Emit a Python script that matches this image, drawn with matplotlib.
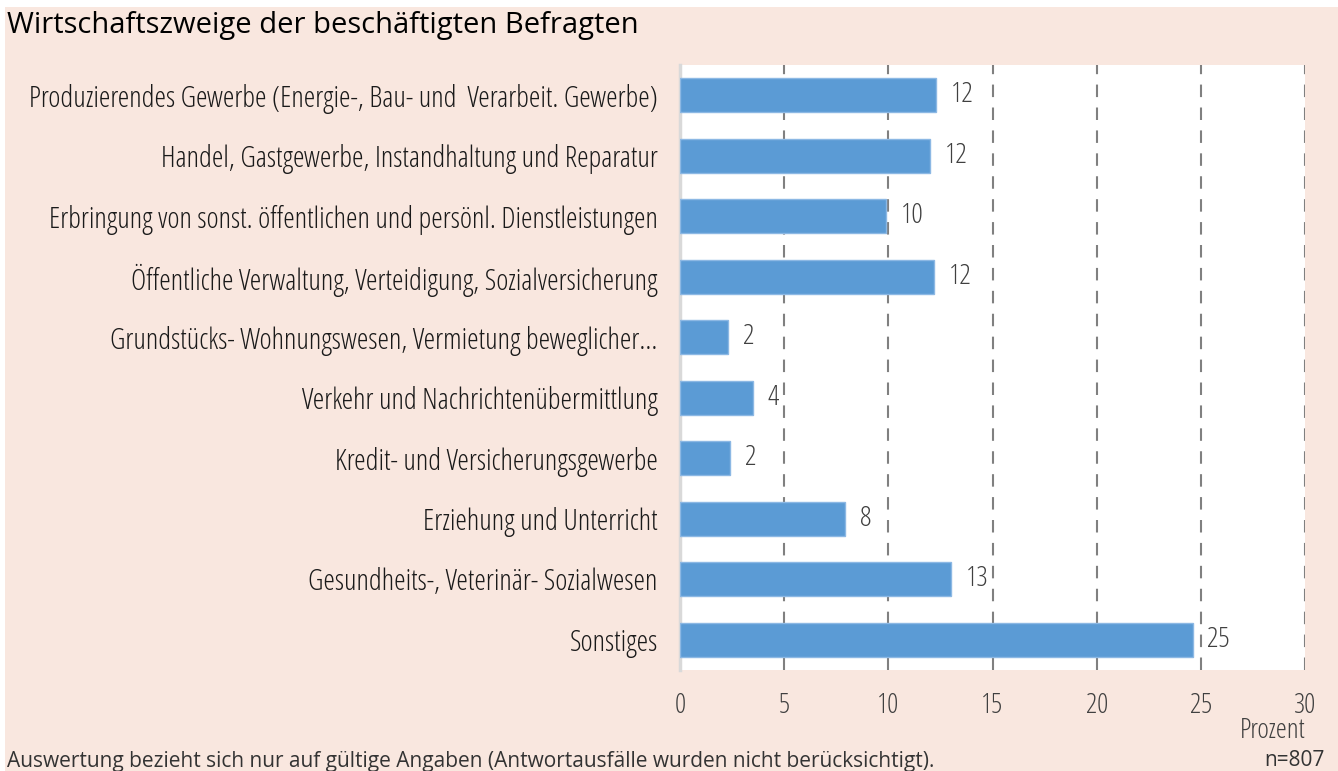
import matplotlib
matplotlib.use("Agg")
import matplotlib.pyplot as plt
from matplotlib import font_manager
from matplotlib.font_manager import FontProperties
from matplotlib.patches import Rectangle

categories = [
    "Produzierendes Gewerbe (Energie-, Bau- und  Verarbeit. Gewerbe)",
    "Handel, Gastgewerbe, Instandhaltung und Reparatur",
    "Erbringung von sonst. öffentlichen und persönl. Dienstleistungen",
    "Öffentliche Verwaltung, Verteidigung, Sozialversicherung",
    "Grundstücks- Wohnungswesen, Vermietung beweglicher…",
    "Verkehr und Nachrichtenübermittlung",
    "Kredit- und Versicherungsgewerbe",
    "Erziehung und Unterricht",
    "Gesundheits-, Veterinär- Sozialwesen",
    "Sonstiges",
]
values = [12.3, 12.0, 9.9, 12.2, 2.3, 3.5, 2.4, 7.9, 13.0, 24.6]
xticks = [0, 5, 10, 15, 20, 25, 30]


def find_font(name, stretch, weight):
    for f in font_manager.fontManager.ttflist:
        if f.name == name and f.stretch == stretch and f.weight == weight and f.style == "normal":
            return f.fname
    return None


cond_path = find_font("Open Sans", "condensed", 300)


def narrow(size):
    if cond_path:
        return FontProperties(fname=cond_path, size=size)
    return FontProperties(family="DejaVu Sans", stretch="condensed", size=size)


BG = "#F9E7DF"
BAR = "#5B9BD5"

fig = plt.figure(figsize=(13.38, 7.71), dpi=100)
fig.patch.set_facecolor("white")
fig.patches.append(Rectangle((5 / 1338, 0), 1, (771 - 7) / 771, transform=fig.transFigure,
                             facecolor=BG, edgecolor="none", zorder=-10))

ax = fig.add_axes([680 / 1338, 101 / 771, 625 / 1338, 605 / 771])
ax.set_zorder(1)
ax.set_facecolor("white")
y = list(range(len(categories)))
ax.barh(y, values, height=0.56, color=BAR, edgecolor="#8CB8E4", linewidth=1, zorder=3)
for yi, v in zip(y, values):
    ax.annotate(f"{v:.0f}", (v, yi), xytext=(15, 0), textcoords="offset pixels",
                va="center", ha="left", fontproperties=narrow(20.5), color="#404040", zorder=4)

ax.set_xlim(0, 30)
ax.set_ylim(len(categories) - 0.5, -0.5)
ax.set_xticks(xticks)
ax.set_xticklabels([str(t) for t in xticks], fontproperties=narrow(20), color="#404040")
ax.set_yticks(y)
ax.set_yticklabels(categories, fontproperties=narrow(21), color="#1a1a1a")
ax.tick_params(axis="both", length=0)
ax.tick_params(axis="y", pad=16)
ax.tick_params(axis="x", pad=16)
for t in xticks[1:]:
    ax.axvline(t, color="#808080", linestyle=(0, (6, 5)), linewidth=1.5, zorder=1)
for s in ["top", "right", "bottom"]:
    ax.spines[s].set_visible(False)
ax.spines["left"].set_color("#D9D9D9")
ax.spines["left"].set_linewidth(2.5)

fig.text(7 / 1338, 1 - 25 / 771, "Wirtschaftszweige der beschäftigten Befragten",
         family="Open Sans", fontsize=21, color="black", va="center", ha="left")
fig.text(1305 / 1338, 1 - 731 / 771, "Prozent", fontproperties=narrow(20),
         color="#404040", va="center", ha="right")
fig.text(7 / 1338, 1 - 761 / 771,
         "Auswertung bezieht sich nur auf gültige Angaben (Antwortausfälle wurden nicht berücksichtigt).",
         family="Open Sans", fontsize=15, color="#333333", va="center", ha="left")
fig.text(1325 / 1338, 1 - 761 / 771, "n=807", family="Open Sans", fontsize=15,
         color="#333333", va="center", ha="right")

fig.savefig("out.png", dpi=100, facecolor="white")
